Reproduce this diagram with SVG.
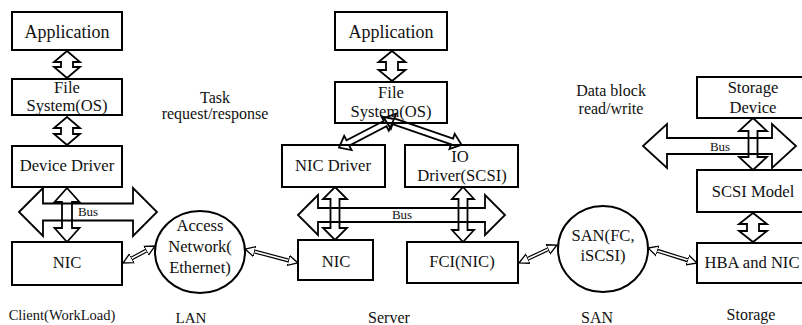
<svg xmlns="http://www.w3.org/2000/svg" width="802" height="325" viewBox="0 0 802 325">
<style>
.box{fill:#fff;stroke:#000;stroke-width:2}
.cir{fill:#fff;stroke:#000;stroke-width:2}
.blk{fill:none;stroke:#000;stroke-width:1.8;stroke-linejoin:miter}
.t{font-family:"Liberation Serif","Times New Roman",serif;font-size:16.6px;fill:#111;text-anchor:middle}
.big{font-size:18px}
.lab{font-size:16px}
.s{font-family:"Liberation Serif","Times New Roman",serif;font-size:13px;fill:#111;text-anchor:middle}
.dl{stroke:#000;stroke-width:4;fill:none}
.dw{stroke:#fff;stroke-width:1.6;fill:none}
</style>
<defs>
<marker id="ah" markerUnits="userSpaceOnUse" markerWidth="12" markerHeight="12" refX="10" refY="5" orient="auto-start-reverse" viewBox="0 0 12 10">
<path d="M0,0 L10,5 L0,10 Z" fill="#fff" stroke="#000" stroke-width="1.3"/>
</marker>
</defs>
<rect width="802" height="325" fill="#fff"/>

<g id="connectors">
<path class="blk" transform="translate(67,51) rotate(90)" d="M0,0 L11,-13 L11,-6 L16,-6 L16,-13 L27,0 L16,13 L16,6 L11,6 L11,13 Z"/>
<path class="blk" transform="translate(67,117) rotate(90)" d="M0,0 L11,-13 L11,-6 L17,-6 L17,-13 L28,0 L17,13 L17,6 L11,6 L11,13 Z"/>
<path class="blk" transform="translate(19,212)" d="M0,0 L24,-24 L24,-8.5 L114,-8.5 L114,-24 L138,0 L114,24 L114,8.5 L24,8.5 L24,24 Z"/>
<path class="blk" transform="translate(67,188) rotate(90)" d="M0,0 L14,-12.5 L14,-5 L40,-5 L40,-12.5 L54,0 L40,12.5 L40,5 L14,5 L14,12.5 Z"/>

<path class="blk" transform="translate(392,51) rotate(90)" d="M0,0 L11,-13.5 L11,-6 L19,-6 L19,-13.5 L30,0 L19,13.5 L19,6 L11,6 L11,13.5 Z"/>
<path class="blk" transform="translate(394,119) rotate(152.5)" d="M0,0 L10,-8 L10,-3 L52,-3 L52,-8 L62,0 L52,8 L52,3 L10,3 L10,8 Z"/>
<path class="blk" transform="translate(384,118) rotate(19)" d="M0,0 L10,-8 L10,-3 L72,-3 L72,-8 L82,0 L72,8 L72,3 L10,3 L10,8 Z"/>
<path class="blk" transform="translate(298,215)" d="M0,0 L20,-20 L20,-7 L187,-7 L187,-20 L207,0 L187,20 L187,7 L20,7 L20,20 Z"/>
<path class="blk" transform="translate(335,187) rotate(90)" d="M0,0 L12,-12 L12,-4.5 L41,-4.5 L41,-12 L53,0 L41,12 L41,4.5 L12,4.5 L12,12 Z"/>
<path class="blk" transform="translate(463,187) rotate(90)" d="M0,0 L12,-11 L12,-4.5 L43,-4.5 L43,-11 L55,0 L43,11 L43,4.5 L12,4.5 L12,11 Z"/>

<path class="blk" transform="translate(643,146)" d="M0,0 L24,-22 L24,-8 L129,-8 L129,-22 L153,0 L129,22 L129,8 L24,8 L24,22 Z"/>
<path class="blk" transform="translate(753,118) rotate(90)" d="M0,0 L13,-14 L13,-4.5 L39,-4.5 L39,-14 L52,0 L39,14 L39,4.5 L13,4.5 L13,14 Z"/>
<path class="blk" transform="translate(753,213) rotate(90)" d="M0,0 L11,-14 L11,-6 L18,-6 L18,-14 L29,0 L18,14 L18,6 L11,6 L11,14 Z"/>

<line class="dl" x1="127" y1="261" x2="151" y2="248"/>
<line class="dw" x1="123" y1="263" x2="155" y2="246" marker-start="url(#ah)" marker-end="url(#ah)"/>
<line class="dl" x1="249" y1="250" x2="294" y2="262"/>
<line class="dw" x1="245" y1="249" x2="298" y2="263" marker-start="url(#ah)" marker-end="url(#ah)"/>
<line class="dl" x1="523" y1="261" x2="553" y2="247"/>
<line class="dw" x1="519" y1="263" x2="557" y2="245" marker-start="url(#ah)" marker-end="url(#ah)"/>
<line class="dl" x1="652" y1="249" x2="693" y2="262"/>
<line class="dw" x1="648" y1="248" x2="697" y2="263" marker-start="url(#ah)" marker-end="url(#ah)"/>
<text class="s" x="88" y="216">Bus</text>
<text class="s" x="402" y="219">Bus</text>
<text class="s" x="720" y="151">Bus</text>
</g>

<g id="client-app"><rect class="box" x="12" y="12" width="110" height="38"/><text class="t big" x="67" y="38">Application</text></g>
<g id="client-fs"><rect class="box" x="12" y="79" width="110" height="36" style="fill:none"/><text class="t" x="67" y="93">File</text><text class="t" x="67" y="111">System(OS)</text></g>
<g id="client-dd"><rect class="box" x="12" y="146" width="110" height="41" style="fill:none"/><text class="t" x="67" y="171">Device Driver</text></g>
<g id="client-nic"><rect class="box" x="12" y="242" width="110" height="43"/><text class="t" x="67" y="268">NIC</text></g>
<g id="access-network"><ellipse class="cir" cx="200" cy="252" rx="45" ry="41"/><text class="t" x="200" y="231">Access</text><text class="t" x="200" y="252">Network(</text><text class="t" x="200" y="273">Ethernet)</text></g>

<g id="server-app"><rect class="box" x="335" y="12" width="112" height="38"/><text class="t big" x="391" y="38">Application</text></g>
<g id="server-fs"><rect class="box" x="335" y="82" width="112" height="41" style="fill:none"/><text class="t" x="391" y="98">File</text><text class="t" x="391" y="117">System(OS)</text></g>
<g id="nic-driver"><rect class="box" x="282" y="145" width="103" height="42" style="fill:none"/><text class="t" x="333" y="171">NIC Driver</text></g>
<g id="io-driver"><rect class="box" x="405" y="145" width="113" height="42" style="fill:none"/><text class="t" x="460" y="162">IO</text><text class="t" x="462" y="181">Driver(SCSI)</text></g>
<g id="server-nic"><rect class="box" x="298" y="240" width="75" height="40" style="fill:none"/><text class="t" x="336" y="267">NIC</text></g>
<g id="fci"><rect class="box" x="407" y="242" width="111" height="41" style="fill:none"/><text class="t" x="462" y="267">FCI(NIC)</text></g>
<g id="san"><ellipse class="cir" cx="603" cy="249" rx="45" ry="43"/><text class="t" x="603" y="241">SAN(FC,</text><text class="t" x="603" y="261">iSCSI)</text></g>

<g id="storage-device"><rect class="box" x="697" y="77" width="112" height="41"/><text class="t" x="753" y="93">Storage</text><text class="t" x="753" y="113">Device</text></g>
<g id="scsi-model"><rect class="box" x="697" y="170" width="112" height="42" style="fill:none"/><text class="t" x="753" y="197">SCSI Model</text></g>
<g id="hba-nic"><rect class="box" x="697" y="243" width="112" height="40" style="fill:none"/><text class="t" x="752" y="268">HBA and NIC</text></g>

<g id="labels">
<text class="t lab" x="215" y="103">Task</text>
<text class="t lab" x="215" y="119">request/response</text>
<text class="t lab" x="611" y="96">Data block</text>
<text class="t lab" x="611" y="114">read/write</text>
<text class="t" style="font-size:14.5px" x="62" y="320">Client(WorkLoad)</text>
<text class="t" style="font-size:15px" x="191" y="323">LAN</text>
<text class="t lab" x="389" y="323">Server</text>
<text class="t lab" x="597" y="323">SAN</text>
<text class="t lab" x="751" y="320">Storage</text>
</g>
</svg>
